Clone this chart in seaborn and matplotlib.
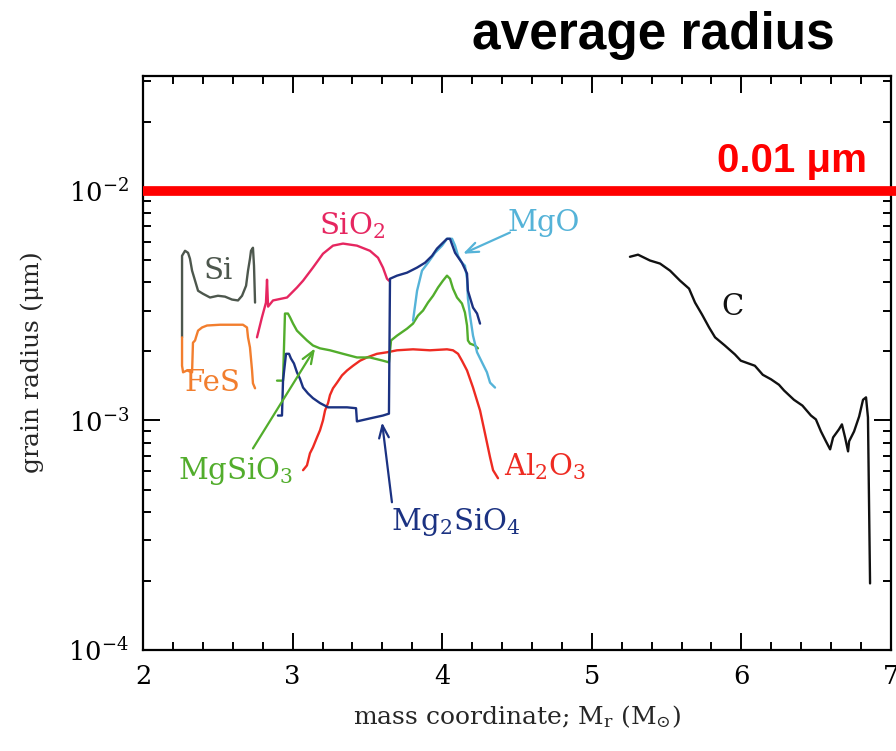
import matplotlib
matplotlib.use("Agg")
import matplotlib.pyplot as plt
import seaborn as sns
import numpy as np
from matplotlib.ticker import MultipleLocator, LogLocator, NullFormatter

# ---- grain radius (micron) versus mass coordinate (Msun) ----
si_m   = [2.261, 2.261, 2.281, 2.301, 2.314, 2.328, 2.348, 2.368, 2.401, 2.448, 2.501,
          2.548, 2.595, 2.635, 2.662, 2.689, 2.702, 2.715, 2.722, 2.735, 2.742, 2.749]
si_a   = [2.30e-3, 5.21e-3, 5.48e-3, 5.37e-3, 5.06e-3, 4.49e-3, 4.06e-3, 3.67e-3, 3.56e-3,
          3.43e-3, 3.49e-3, 3.46e-3, 3.36e-3, 3.33e-3, 3.49e-3, 3.86e-3, 4.49e-3, 5.06e-3,
          5.48e-3, 5.65e-3, 4.72e-3, 3.26e-3]

fes_m  = [2.261, 2.261, 2.268, 2.294, 2.328, 2.334, 2.348, 2.354, 2.368, 2.395, 2.428,
          2.515, 2.668, 2.695, 2.702, 2.715, 2.729, 2.735, 2.749]
fes_a  = [2.30e-3, 1.73e-3, 1.62e-3, 1.65e-3, 1.62e-3, 2.18e-3, 2.23e-3, 2.30e-3, 2.46e-3,
          2.54e-3, 2.59e-3, 2.61e-3, 2.61e-3, 2.54e-3, 2.30e-3, 2.08e-3, 1.65e-3, 1.45e-3,
          1.38e-3]

sio2_m = [2.762, 2.795, 2.822, 2.829, 2.836, 2.869, 2.963, 3.029, 3.070, 3.136, 3.203,
          3.270, 3.337, 3.430, 3.517, 3.571, 3.604, 3.631, 3.644]
sio2_a = [2.30e-3, 2.81e-3, 3.26e-3, 4.10e-3, 3.13e-3, 3.33e-3, 3.43e-3, 3.79e-3, 4.06e-3,
          4.63e-3, 5.32e-3, 5.77e-3, 5.89e-3, 5.77e-3, 5.48e-3, 5.11e-3, 4.63e-3, 4.14e-3,
          4.06e-3]

mg2sio4_m = [2.902, 2.929, 2.936, 2.956, 2.976, 2.989, 3.009, 3.029, 3.049, 3.070, 3.103,
             3.136, 3.183, 3.237, 3.364, 3.424, 3.430, 3.517, 3.604, 3.644, 3.651, 3.698,
             3.765, 3.832, 3.885, 3.932, 3.965, 3.999, 4.032, 4.052, 4.086, 4.132, 4.166,
             4.172, 4.206, 4.233, 4.253]
mg2sio4_a = [1.05e-3, 1.05e-3, 1.49e-3, 1.95e-3, 1.95e-3, 1.86e-3, 1.77e-3, 1.62e-3, 1.52e-3,
             1.39e-3, 1.31e-3, 1.25e-3, 1.19e-3, 1.14e-3, 1.14e-3, 1.13e-3, 0.99e-3, 1.02e-3,
             1.05e-3, 1.07e-3, 4.14e-3, 4.27e-3, 4.40e-3, 4.63e-3, 4.86e-3, 5.21e-3, 5.60e-3,
             5.89e-3, 6.18e-3, 6.18e-3, 5.37e-3, 4.86e-3, 4.36e-3, 3.67e-3, 3.10e-3, 2.92e-3,
             2.64e-3]

mgsio3_m = [2.896, 2.936, 2.949, 2.969, 2.983, 3.003, 3.029, 3.063, 3.096, 3.136, 3.183,
            3.250, 3.337, 3.430, 3.517, 3.604, 3.644, 3.658, 3.698, 3.765, 3.805, 3.838,
            3.872, 3.905, 3.939, 3.972, 4.005, 4.032, 4.052, 4.072, 4.099, 4.132, 4.152,
            4.166, 4.172, 4.186, 4.219, 4.239]
mgsio3_a = [1.49e-3, 1.49e-3, 2.92e-3, 2.92e-3, 2.81e-3, 2.64e-3, 2.46e-3, 2.34e-3, 2.23e-3,
            2.12e-3, 2.06e-3, 2.02e-3, 1.95e-3, 1.88e-3, 1.88e-3, 1.82e-3, 1.79e-3, 2.23e-3,
            2.34e-3, 2.51e-3, 2.64e-3, 2.86e-3, 3.01e-3, 3.26e-3, 3.49e-3, 3.79e-3, 4.06e-3,
            4.27e-3, 4.14e-3, 3.75e-3, 3.43e-3, 3.23e-3, 2.95e-3, 2.59e-3, 2.23e-3, 2.16e-3,
            2.12e-3, 2.06e-3]

mgo_m  = [3.805, 3.832, 3.865, 3.905, 3.952, 3.999, 4.032, 4.066, 4.086, 4.106, 4.132,
          4.152, 4.166, 4.172, 4.186, 4.206, 4.233, 4.266, 4.299, 4.320, 4.353]
mgo_a  = [2.72e-3, 3.67e-3, 4.49e-3, 4.86e-3, 5.37e-3, 5.77e-3, 6.18e-3, 6.18e-3, 5.77e-3,
          5.21e-3, 4.86e-3, 4.72e-3, 4.14e-3, 3.39e-3, 2.86e-3, 2.34e-3, 1.98e-3, 1.79e-3,
          1.62e-3, 1.46e-3, 1.39e-3]

al2o3_m = [3.070, 3.096, 3.116, 3.136, 3.163, 3.183, 3.203, 3.217, 3.237, 3.250, 3.270,
           3.297, 3.330, 3.364, 3.404, 3.451, 3.497, 3.564, 3.631, 3.698, 3.805, 3.918,
           4.032, 4.072, 4.106, 4.132, 4.166, 4.206, 4.253, 4.286, 4.320, 4.340, 4.373]
al2o3_a = [6.07e-4, 6.37e-4, 7.19e-4, 7.63e-4, 8.43e-4, 9.05e-4, 1.00e-3, 1.105e-3, 1.19e-3,
           1.29e-3, 1.38e-3, 1.46e-3, 1.57e-3, 1.65e-3, 1.73e-3, 1.82e-3, 1.88e-3, 1.95e-3,
           1.98e-3, 2.02e-3, 2.04e-3, 2.02e-3, 2.04e-3, 2.02e-3, 1.95e-3, 1.82e-3, 1.65e-3,
           1.39e-3, 1.105e-3, 8.78e-4, 6.90e-4, 6.07e-4, 5.60e-4]

c_m = [5.255, 5.309, 5.389, 5.456, 5.523, 5.590, 5.650, 5.690, 5.737, 5.784, 5.824, 5.889,
       5.956, 5.996, 6.090, 6.143, 6.198, 6.251, 6.285, 6.351, 6.408, 6.465, 6.498, 6.532,
       6.565, 6.593, 6.613, 6.652, 6.672, 6.693, 6.713, 6.720, 6.753, 6.787, 6.813, 6.833,
       6.846, 6.860]
c_a = [5.16e-3, 5.27e-3, 4.97e-3, 4.82e-3, 4.49e-3, 4.06e-3, 3.75e-3, 3.26e-3, 2.89e-3,
       2.54e-3, 2.30e-3, 2.12e-3, 1.94e-3, 1.82e-3, 1.73e-3, 1.58e-3, 1.51e-3, 1.43e-3,
       1.35e-3, 1.23e-3, 1.16e-3, 1.05e-3, 1.01e-3, 8.95e-4, 8.11e-4, 7.48e-4, 8.43e-4,
       9.14e-4, 9.61e-4, 8.43e-4, 7.33e-4, 8.11e-4, 8.95e-4, 1.04e-3, 1.23e-3, 1.26e-3,
       1.03e-3, 1.95e-4]

reference_radius = 0.01   # micron

sns.set_style("ticks")
plt.rcParams["font.family"] = ["DejaVu Serif"]
plt.rcParams["mathtext.fontset"] = "dejavuserif"
plt.rcParams["mathtext.default"] = "regular"

fig = plt.figure(figsize=(8.96, 7.51), dpi=100)
fig.patch.set_facecolor("white")
ax = fig.add_axes([143 / 896, 101 / 751, 748 / 896, 574 / 751])

series = [
    (si_m, si_a, "#4d574d"),
    (fes_m, fes_a, "#f27e2e"),
    (sio2_m, sio2_a, "#e62660"),
    (al2o3_m, al2o3_a, "#ee2b22"),
    (mgsio3_m, mgsio3_a, "#52ad2c"),
    (mgo_m, mgo_a, "#55b3d8"),
    (mg2sio4_m, mg2sio4_a, "#1b3282"),
    (c_m, c_a, "#111111"),
]
for m, a, col in series:
    sns.lineplot(x=m, y=a, sort=False, estimator=None, color=col, lw=1.7, ax=ax)

ax.set_yscale("log")
ax.set_xlim(2, 7)
ax.set_ylim(1e-4, 10 ** -1.5)

# reference radius
ax.plot([2, 7.04], [reference_radius, reference_radius], color="#ff0000", lw=7,
        solid_capstyle="butt", clip_on=False, zorder=5)

# species labels
lab = dict(fontsize=21, ha="center", va="center")
ax.text(2.50, 4.49e-3, "Si", color="#4d574d", **lab)
ax.text(2.46, 1.46e-3, "FeS", color="#f27e2e", **lab)
ax.text(3.40, 7.05e-3, "SiO$_2$", color="#e62660", **lab)
ax.text(4.68, 7.26e-3, "MgO", color="#55b3d8", **lab)
ax.text(5.94, 3.13e-3, "C", color="#111111", **lab)
ax.text(4.69, 6.3e-4, "Al$_2$O$_3$", color="#ee2b22", **lab)
ax.text(2.62, 6.0e-4, "MgSiO$_3$", color="#52ad2c", **lab)
ax.text(4.09, 3.6e-4, "Mg$_2$SiO$_4$", color="#1b3282", **lab)

arrow = "->,head_length=0.9,head_width=0.35"
ax.annotate("", xy=(3.150, 2.06e-3), xytext=(2.735, 7.55e-4),
            arrowprops=dict(arrowstyle=arrow, color="#52ad2c", lw=1.6, shrinkA=0, shrinkB=0))
ax.annotate("", xy=(3.598, 9.8e-4), xytext=(3.664, 4.4e-4),
            arrowprops=dict(arrowstyle=arrow, color="#1b3282", lw=1.6, shrinkA=0, shrinkB=0))
ax.annotate("", xy=(4.139, 5.32e-3), xytext=(4.453, 6.58e-3),
            arrowprops=dict(arrowstyle=arrow, color="#55b3d8", lw=1.6, shrinkA=0, shrinkB=0))

# axes styling
for sp in ax.spines.values():
    sp.set_linewidth(1.6)
    sp.set_color("black")
ax.xaxis.set_major_locator(MultipleLocator(1))
ax.xaxis.set_minor_locator(MultipleLocator(0.2))
ax.yaxis.set_major_locator(LogLocator(base=10, numticks=10))
ax.yaxis.set_minor_locator(LogLocator(base=10, subs=np.arange(2, 10), numticks=20))
ax.yaxis.set_minor_formatter(NullFormatter())
ax.tick_params(which="both", direction="in", top=True, right=True, width=1.4, colors="black")
ax.tick_params(which="major", length=12, labelsize=18.5, pad=10)
ax.tick_params(which="minor", length=6)

ax.set_xlabel(r"mass coordinate; M$_\mathrm{r}$ (M$_{{\odot}}$)", fontsize=18, labelpad=10)
ax.set_ylabel(r"grain radius ($\mu$m)", fontsize=18, labelpad=16)

fig.text(653 / 896, 1 - 35 / 751, "average radius", ha="center", va="center",
         fontsize=37, fontweight="bold", family="Liberation Sans", color="black")
fig.text(792 / 896, 1 - 161 / 751, "0.01 μm", ha="center", va="center",
         fontsize=29, fontweight="bold", family="Liberation Sans", color="#ff0000")

fig.savefig("out.png", dpi=100, facecolor="white")
